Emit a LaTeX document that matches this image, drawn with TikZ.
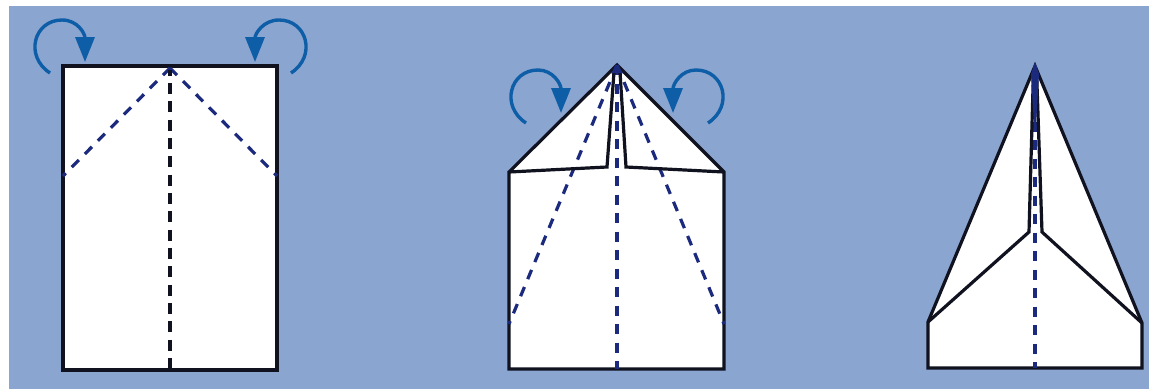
\documentclass[tikz,border=0pt]{standalone}
\usetikzlibrary{arrows.meta}
\definecolor{bgblue}{HTML}{8BA5D1}
\definecolor{foldblue}{HTML}{0D5EA6}
\definecolor{navy}{HTML}{1C2A7E}
\definecolor{ink}{HTML}{10131F}
\tikzset{
  paper/.style={fill=white,draw=ink,line width=3.2pt,line join=miter},
  edgeline/.style={draw=ink,line width=3.2pt,line join=miter},
  navyfold/.style={draw=navy,line width=3.2pt,dash pattern=on 10pt off 8.5pt},
  blackfold/.style={draw=ink,line width=3.4pt,dash pattern=on 11pt off 7.33pt},
  foldarrow/.style={draw=foldblue,line width=3.4pt,-{Triangle[length=25pt,width=19pt]}},
}
\begin{document}
\begin{tikzpicture}[x=1pt,y=-1pt]
\useasboundingbox (0,0) rectangle (1149,389);
\fill[white] (0,0) rectangle (1149,389);
\fill[bgblue] (9,6) rectangle (1149,389);
% Panel 1
\coordinate (aTL) at (63,66); \coordinate (aTR) at (277,66);
\coordinate (aBR) at (277,370); \coordinate (aBL) at (63,370);
\coordinate (aApex) at (170,68); \coordinate (aL) at (63,176); \coordinate (aR) at (277,176);
\coordinate (aB) at (170,370); \coordinate (aC) at (170,83);
\draw[paper] (aTL) -- (aTR) -- (aBR) -- (aBL) -- cycle;
\draw[navyfold] (aApex) -- (aL);
\draw[navyfold] (aApex) -- (aR);
\draw[blackfold] (aC) -- (aB);
\draw[draw=ink,line width=3.4pt] (170,70) -- (170,76);
\coordinate (aS1) at (50,73); \coordinate (aE1) at (85,62);
\coordinate (aS2) at (291,73); \coordinate (aE2) at (255,62);
\draw[foldarrow] (aS1) .. controls (24,56) and (34,20) .. (62,20) .. controls (78,20) and (85,34) .. (aE1);
\draw[foldarrow] (aS2) .. controls (317,56) and (307,20) .. (279,20) .. controls (263,20) and (255,34) .. (aE2);
% Panel 2
\coordinate (bTL) at (509,172); \coordinate (bTR) at (724,172);
\coordinate (bBR) at (724,369); \coordinate (bBL) at (509,369);
\coordinate (bApex) at (617,65); \coordinate (bIL) at (607,167); \coordinate (bIR) at (626,167);
\coordinate (bL) at (509,324); \coordinate (bR) at (724,324); \coordinate (bB) at (617,369);
\coordinate (bTopL) at (614,72); \coordinate (bTopR) at (620,72);
\draw[paper] (bApex) -- (bTR) -- (bBR) -- (bBL) -- (bTL) -- cycle;
\draw[navyfold] (bApex) -- (bL);
\draw[navyfold] (bApex) -- (bR);
\draw[navyfold] (bApex) -- (bB);
\draw[edgeline] (bTL) -- (bIL) -- (bTopL);
\draw[edgeline] (bTR) -- (bIR) -- (bTopR);
\fill[navy] (bApex) -- (611,73) -- (623,73) -- cycle;
\coordinate (bS1) at (526,123); \coordinate (bE1) at (561,113);
\coordinate (bS2) at (708,123); \coordinate (bE2) at (673,113);
\draw[foldarrow] (bS1) .. controls (500,106) and (510,70) .. (538,70) .. controls (553,70) and (561,84) .. (bE1);
\draw[foldarrow] (bS2) .. controls (734,106) and (724,70) .. (696,70) .. controls (681,70) and (673,84) .. (bE2);
% Panel 3
\coordinate (cApex) at (1035,66); \coordinate (cL) at (928,322); \coordinate (cR) at (1142,323);
\coordinate (cBR) at (1142,368); \coordinate (cBL) at (928,368);
\coordinate (cIL) at (1029,232); \coordinate (cIR) at (1042,232); \coordinate (cB) at (1035,368);
\draw[paper] (cApex) -- (cR) -- (cBR) -- (cBL) -- (cL) -- cycle;
\draw[navyfold] (cApex) -- (cB);
\draw[edgeline] (cL) -- (cIL) -- (1033.5,70);
\draw[edgeline] (cR) -- (cIR) -- (1036.5,70);
\fill[navy] (1035,62) -- (1031,74) -- (1034,125) -- (1036,125) -- (1039,74) -- cycle;
\end{tikzpicture}
\end{document}
